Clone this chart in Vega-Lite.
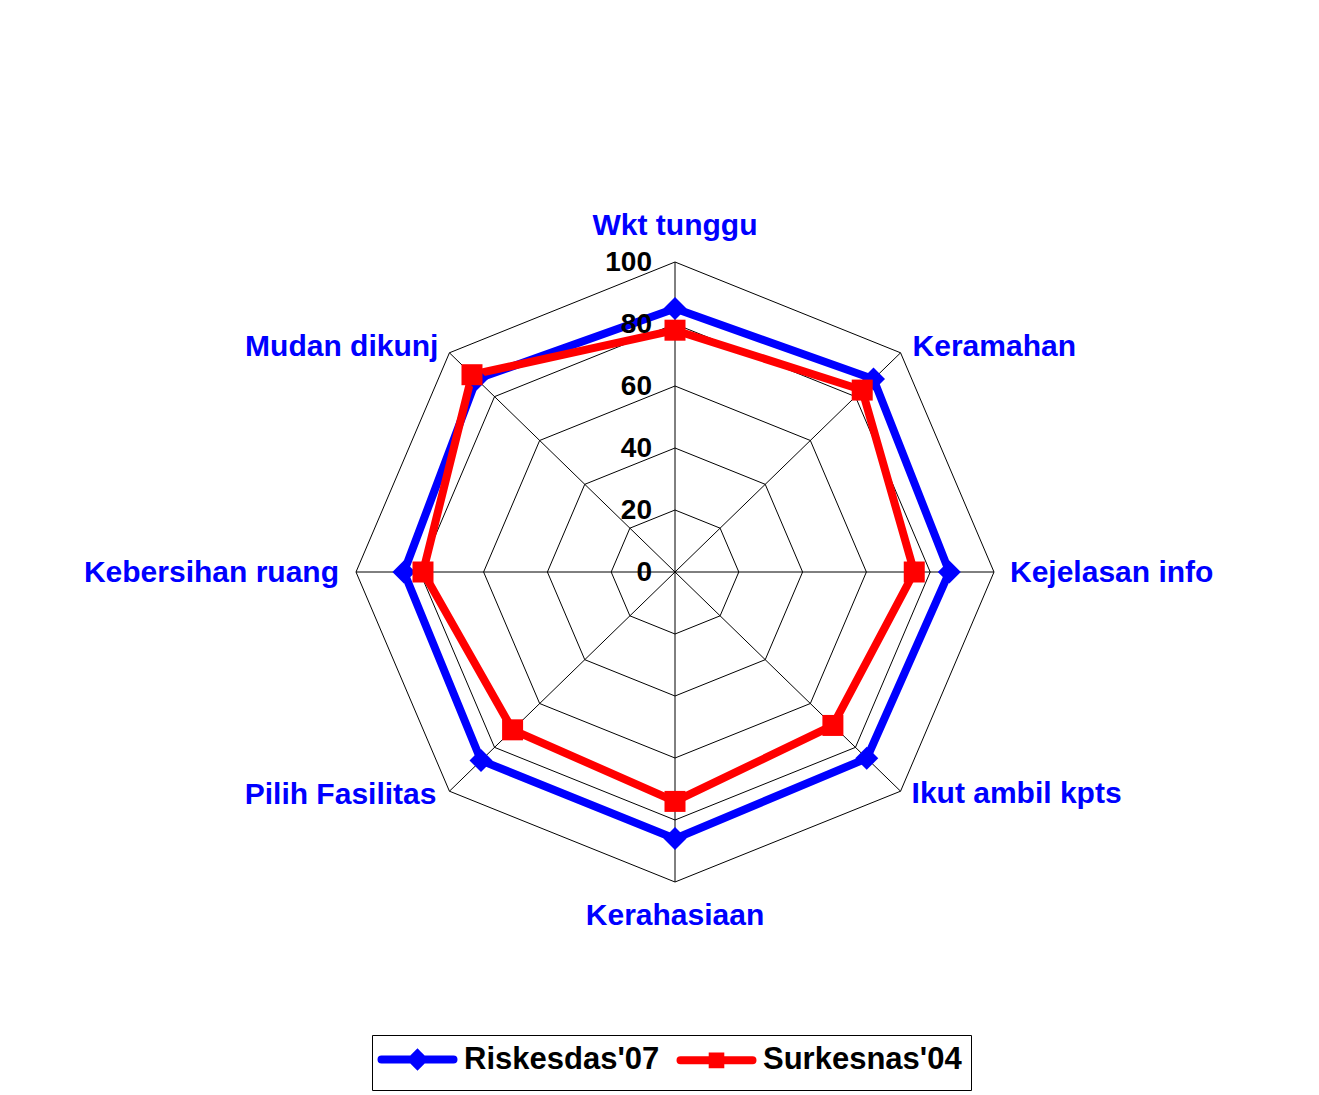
{
  "$schema": "https://vega.github.io/schema/vega-lite/v6.json",
  "width": 638,
  "height": 620,
  "autosize": {"type": "none"},
  "padding": {"left": 356, "top": 262, "right": 325, "bottom": 213},
  "background": "white",
  "config": {"view": {"stroke": null}, "font": "Liberation Sans"},
  "datasets": {
    "cats": [
      {"axis": "Wkt tunggu", "levels": [20, 40, 60, 80, 100]},
      {"axis": "Keramahan", "levels": [20, 40, 60, 80, 100]},
      {"axis": "Kejelasan info", "levels": [20, 40, 60, 80, 100]},
      {"axis": "Ikut ambil kpts", "levels": [20, 40, 60, 80, 100]},
      {"axis": "Kerahasiaan", "levels": [20, 40, 60, 80, 100]},
      {"axis": "Pilih Fasilitas", "levels": [20, 40, 60, 80, 100]},
      {"axis": "Kebersihan ruang", "levels": [20, 40, 60, 80, 100]},
      {"axis": "Mudan dikunj", "levels": [20, 40, 60, 80, 100]}
    ],
    "series": [
      {"axis": "Wkt tunggu", "series": "Riskesdas'07", "value": 85},
      {"axis": "Keramahan", "series": "Riskesdas'07", "value": 88},
      {"axis": "Kejelasan info", "series": "Riskesdas'07", "value": 86},
      {"axis": "Ikut ambil kpts", "series": "Riskesdas'07", "value": 85},
      {"axis": "Kerahasiaan", "series": "Riskesdas'07", "value": 86},
      {"axis": "Pilih Fasilitas", "series": "Riskesdas'07", "value": 86},
      {"axis": "Kebersihan ruang", "series": "Riskesdas'07", "value": 85},
      {"axis": "Mudan dikunj", "series": "Riskesdas'07", "value": 88},
      {"axis": "Wkt tunggu", "series": "Surkesnas'04", "value": 78},
      {"axis": "Keramahan", "series": "Surkesnas'04", "value": 83},
      {"axis": "Kejelasan info", "series": "Surkesnas'04", "value": 75},
      {"axis": "Ikut ambil kpts", "series": "Surkesnas'04", "value": 70},
      {"axis": "Kerahasiaan", "series": "Surkesnas'04", "value": 74},
      {"axis": "Pilih Fasilitas", "series": "Surkesnas'04", "value": 72},
      {"axis": "Kebersihan ruang", "series": "Surkesnas'04", "value": 79},
      {"axis": "Mudan dikunj", "series": "Surkesnas'04", "value": 90}
    ],
    "ticks": [{"tick": 0}, {"tick": 20}, {"tick": 40}, {"tick": 60}, {"tick": 80}, {"tick": 100}]
  },
  "layer": [
    {
      "data": {"name": "cats"},
      "transform": [
        {"flatten": ["levels"], "as": ["level"]},
        {"calculate": "indexof(['Wkt tunggu','Keramahan','Kejelasan info','Ikut ambil kpts','Kerahasiaan','Pilih Fasilitas','Kebersihan ruang','Mudan dikunj'], datum.axis)", "as": "idx"},
        {"calculate": "datum.level * sin(datum.idx * PI / 4)", "as": "px"},
        {"calculate": "datum.level * cos(datum.idx * PI / 4)", "as": "py"}
      ],
      "mark": {"type": "line", "stroke": "black", "strokeWidth": 1, "interpolate": "linear-closed"},
      "encoding": {
        "x": {"field": "px", "type": "quantitative", "scale": {"domain": [-100, 100], "nice": false}, "axis": null},
        "y": {"field": "py", "type": "quantitative", "scale": {"domain": [-100, 100], "nice": false}, "axis": null},
        "detail": {"field": "level", "type": "nominal"},
        "order": {"field": "idx", "type": "quantitative"}
      }
    },
    {
      "data": {"name": "cats"},
      "transform": [
        {"calculate": "indexof(['Wkt tunggu','Keramahan','Kejelasan info','Ikut ambil kpts','Kerahasiaan','Pilih Fasilitas','Kebersihan ruang','Mudan dikunj'], datum.axis)", "as": "idx"},
        {"calculate": "100 * sin(datum.idx * PI / 4)", "as": "px"},
        {"calculate": "100 * cos(datum.idx * PI / 4)", "as": "py"}
      ],
      "mark": {"type": "rule", "stroke": "black", "strokeWidth": 1},
      "encoding": {
        "x": {"field": "px", "type": "quantitative", "scale": {"domain": [-100, 100], "nice": false}, "axis": null},
        "y": {"field": "py", "type": "quantitative", "scale": {"domain": [-100, 100], "nice": false}, "axis": null},
        "x2": {"datum": 0},
        "y2": {"datum": 0}
      }
    },
    {
      "data": {"name": "series"},
      "transform": [
        {"calculate": "indexof(['Wkt tunggu','Keramahan','Kejelasan info','Ikut ambil kpts','Kerahasiaan','Pilih Fasilitas','Kebersihan ruang','Mudan dikunj'], datum.axis)", "as": "idx"},
        {"calculate": "datum.value * sin(datum.idx * PI / 4)", "as": "px"},
        {"calculate": "datum.value * cos(datum.idx * PI / 4)", "as": "py"}
      ],
      "encoding": {
        "x": {"field": "px", "type": "quantitative", "scale": {"domain": [-100, 100], "nice": false}, "axis": null},
        "y": {"field": "py", "type": "quantitative", "scale": {"domain": [-100, 100], "nice": false}, "axis": null}
      },
      "layer": [
        {
          "mark": {"type": "line", "strokeWidth": 8, "interpolate": "linear-closed"},
          "encoding": {
            "order": {"field": "idx", "type": "quantitative"},
            "color": {
              "field": "series",
              "type": "nominal",
              "scale": {"domain": ["Riskesdas'07", "Surkesnas'04"], "range": ["#0000ff", "#ff0000"]},
              "legend": {
                "orient": "none",
                "legendX": 16,
                "legendY": 773,
                "direction": "horizontal",
                "title": null,
                "labelFont": "Liberation Sans",
                "labelFontSize": 31,
                "labelFontWeight": "bold",
                "labelColor": "black",
                "labelLimit": 0,
                "symbolSize": 400,
                "symbolStrokeWidth": 8,
                "symbolOffset": 21,
                "labelOffset": 31,
                "columnPadding": 4,
                "padding": 9,
                "strokeColor": "black",
                "fillColor": "white",
                "encode": {
                  "symbols": {
                    "update": {
                      "shape": {"signal": "datum.index === 0 ? 'M-3.6,0L3.6,0M0,-0.55L0.55,0L0,0.55L-0.55,0Z' : 'M-3.6,0L3.6,0M-0.38,-0.38L0.38,-0.38L0.38,0.38L-0.38,0.38Z'"},
                      "fill": {"signal": "datum.index === 0 ? '#0000ff' : '#ff0000'"},
                      "stroke": {"signal": "datum.index === 0 ? '#0000ff' : '#ff0000'"},
                      "strokeWidth": {"value": 8},
                      "strokeCap": {"value": "round"},
                      "opacity": {"value": 1},
                      "fillOpacity": {"value": 1},
                      "strokeOpacity": {"value": 1}
                    }
                  }
                }
              }
            }
          }
        },
        {
          "transform": [{"filter": "datum.series === \"Riskesdas'07\""}],
          "mark": {"type": "point", "shape": "diamond", "filled": true, "opacity": 1, "color": "#0000ff", "size": 529}
        },
        {
          "transform": [{"filter": "datum.series === \"Surkesnas'04\""}],
          "mark": {"type": "point", "shape": "square", "filled": true, "opacity": 1, "color": "#ff0000", "size": 441}
        }
      ]
    },
    {
      "data": {"name": "ticks"},
      "transform": [{"calculate": "0", "as": "zero"}],
      "mark": {"type": "text", "align": "right", "baseline": "alphabetic", "dx": -23, "dy": 9, "font": "Liberation Sans", "fontSize": 28, "fontWeight": "bold", "color": "black"},
      "encoding": {
        "x": {"field": "zero", "type": "quantitative", "scale": {"domain": [-100, 100], "nice": false}, "axis": null},
        "y": {"field": "tick", "type": "quantitative", "scale": {"domain": [-100, 100], "nice": false}, "axis": null},
        "text": {"field": "tick", "type": "quantitative"}
      }
    },
    {
      "data": {"name": "cats"},
      "transform": [
        {"calculate": "indexof(['Wkt tunggu','Keramahan','Kejelasan info','Ikut ambil kpts','Kerahasiaan','Pilih Fasilitas','Kebersihan ruang','Mudan dikunj'], datum.axis)", "as": "idx"},
        {"calculate": "100 * sin(datum.idx * PI / 4)", "as": "px"},
        {"calculate": "100 * cos(datum.idx * PI / 4)", "as": "py"}
      ],
      "encoding": {
        "x": {"field": "px", "type": "quantitative", "scale": {"domain": [-100, 100], "nice": false}, "axis": null},
        "y": {"field": "py", "type": "quantitative", "scale": {"domain": [-100, 100], "nice": false}, "axis": null},
        "text": {"field": "axis", "type": "nominal"}
      },
      "layer": [
        {"transform": [{"filter": "datum.axis === 'Wkt tunggu'"}], "mark": {"type": "text", "align": "center", "baseline": "alphabetic", "dx": 0, "dy": -27, "font": "Liberation Sans", "fontSize": 30, "fontWeight": "bold", "color": "#0000ff"}},
        {"transform": [{"filter": "datum.axis === 'Keramahan'"}], "mark": {"type": "text", "align": "left", "baseline": "alphabetic", "dx": 12, "dy": 3, "font": "Liberation Sans", "fontSize": 30, "fontWeight": "bold", "color": "#0000ff"}},
        {"transform": [{"filter": "datum.axis === 'Kejelasan info'"}], "mark": {"type": "text", "align": "left", "baseline": "alphabetic", "dx": 16, "dy": 10, "font": "Liberation Sans", "fontSize": 30, "fontWeight": "bold", "color": "#0000ff"}},
        {"transform": [{"filter": "datum.axis === 'Ikut ambil kpts'"}], "mark": {"type": "text", "align": "left", "baseline": "alphabetic", "dx": 11, "dy": 12, "font": "Liberation Sans", "fontSize": 30, "fontWeight": "bold", "color": "#0000ff"}},
        {"transform": [{"filter": "datum.axis === 'Kerahasiaan'"}], "mark": {"type": "text", "align": "center", "baseline": "alphabetic", "dx": 0, "dy": 43, "font": "Liberation Sans", "fontSize": 30, "fontWeight": "bold", "color": "#0000ff"}},
        {"transform": [{"filter": "datum.axis === 'Pilih Fasilitas'"}], "mark": {"type": "text", "align": "right", "baseline": "alphabetic", "dx": -13, "dy": 13, "font": "Liberation Sans", "fontSize": 30, "fontWeight": "bold", "color": "#0000ff"}},
        {"transform": [{"filter": "datum.axis === 'Kebersihan ruang'"}], "mark": {"type": "text", "align": "right", "baseline": "alphabetic", "dx": -17, "dy": 10, "font": "Liberation Sans", "fontSize": 30, "fontWeight": "bold", "color": "#0000ff"}},
        {"transform": [{"filter": "datum.axis === 'Mudan dikunj'"}], "mark": {"type": "text", "align": "right", "baseline": "alphabetic", "dx": -11, "dy": 3, "font": "Liberation Sans", "fontSize": 30, "fontWeight": "bold", "color": "#0000ff"}}
      ]
    }
  ]
}
